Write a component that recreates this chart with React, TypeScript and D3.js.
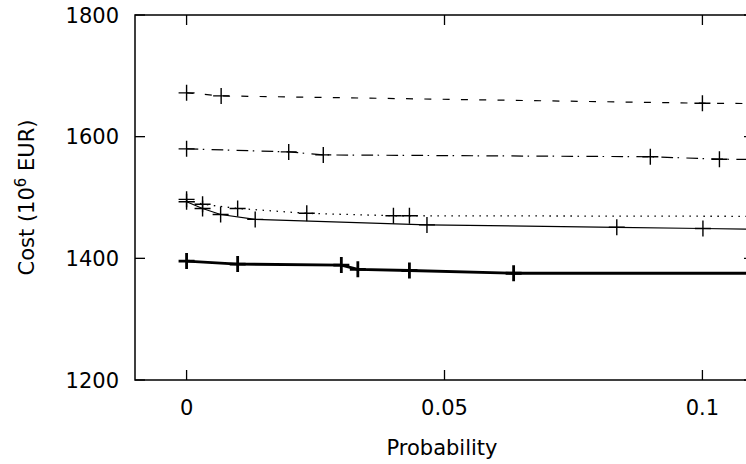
import React from "react";
import * as d3 from "d3";

const xTicks = [0, 0.05, 0.1];
const xTickLabels = ["0", "0.05", "0.1"];
const yTicks = [1200, 1400, 1600, 1800];
const yTickLabels = ["1200", "1400", "1600", "1800"];

const probDashed = [0, 0.0067, 0.1, 0.115];
const costDashed = [1672, 1667, 1655, 1654];

const probDashDot = [0, 0.0198, 0.0265, 0.0899, 0.1033, 0.115];
const costDashDot = [1580, 1575, 1570, 1567, 1563, 1562];

const probDotted = [0, 0.0031, 0.0099, 0.0233, 0.0401, 0.0432, 0.115];
const costDotted = [1497, 1489, 1482, 1474, 1470, 1470, 1469];

const probThin = [0, 0.0031, 0.0066, 0.0133, 0.0466, 0.0834, 0.1001, 0.115];
const costThin = [1493, 1482, 1472, 1464, 1455, 1451, 1449, 1447];

const probThick = [0, 0.0099, 0.03, 0.0332, 0.0432, 0.0634, 0.115];
const costThick = [1395.5, 1390.5, 1389, 1382, 1380, 1375.5, 1375.5];

const series = [
  { xs: probDashed, ys: costDashed, dash: "7,11.3", width: 1.2, mw: 1.4 },
  { xs: probDashDot, ys: costDashDot, dash: "11.7,4.5,1.5,7.3", width: 1.2, mw: 1.4 },
  { xs: probDotted, ys: costDotted, dash: "1.5,5.5", width: 1.3, mw: 1.4 },
  { xs: probThin, ys: costThin, dash: "none", width: 1.2, mw: 1.4 },
  { xs: probThick, ys: costThick, dash: "none", width: 2.8, mw: 2.8 },
];

const W = 746;
const H = 464;
const left = 135;
const right = 754;
const top = 15;
const bottom = 380;
const font = "'DejaVu Sans', sans-serif";
const fs = 21;

export default function App() {
  const x = d3.scaleLinear().domain([-0.01, 0.11]).range([left, right]);
  const y = d3.scaleLinear().domain([1200, 1800]).range([bottom, top]);
  const tick = 10;
  const ms = 8;

  return (
    <svg
      width={W}
      height={H}
      style={{ position: "absolute", left: 0, top: 0, background: "#fff" }}
    >
      <defs>
        <clipPath id="plotclip">
          <rect x={left} y={top} width={right - left} height={bottom - top} />
        </clipPath>
      </defs>
      <rect x={0} y={0} width={W} height={H} fill="#fff" />
      {/* series */}
      <g clipPath="url(#plotclip)">
        {series.map((s, i) => {
          const pts: [number, number][] = s.xs.map((v, j) => [v, s.ys[j]]);
          const line = d3
            .line<[number, number]>()
            .x((d) => x(d[0]))
            .y((d) => y(d[1]));
          return (
            <g key={i}>
              <path
                d={line(pts) || ""}
                fill="none"
                stroke="#000"
                strokeWidth={s.width}
                strokeDasharray={s.dash}
              />
              {pts.map((p, j) => (
                <path
                  key={j}
                  d={`M${x(p[0]) - ms},${y(p[1])}H${x(p[0]) + ms}M${x(p[0])},${y(p[1]) - ms}V${y(p[1]) + ms}`}
                  stroke="#000"
                  strokeWidth={s.mw}
                  fill="none"
                />
              ))}
            </g>
          );
        })}
      </g>
      {/* frame */}
      <rect
        x={left}
        y={top}
        width={right - left}
        height={bottom - top}
        fill="none"
        stroke="#000"
        strokeWidth={1.5}
      />
      {/* x ticks */}
      {xTicks.map((t, i) => (
        <g key={i}>
          <line x1={x(t)} x2={x(t)} y1={bottom} y2={bottom - tick} stroke="#000" strokeWidth={1.3} />
          <line x1={x(t)} x2={x(t)} y1={top} y2={top + tick} stroke="#000" strokeWidth={1.3} />
          <text
            x={x(t)}
            y={415}
            textAnchor="middle"
            fontFamily={font}
            fontSize={fs}
            fill="#000"
          >
            {xTickLabels[i]}
          </text>
        </g>
      ))}
      {/* y ticks */}
      {yTicks.map((t, i) => (
        <g key={i}>
          <line x1={left} x2={left + tick} y1={y(t)} y2={y(t)} stroke="#000" strokeWidth={1.3} />
          <line x1={right} x2={right - tick} y1={y(t)} y2={y(t)} stroke="#000" strokeWidth={1.3} />
          <text
            x={119}
            y={y(t) + 7.6}
            textAnchor="end"
            fontFamily={font}
            fontSize={fs}
            fill="#000"
          >
            {yTickLabels[i]}
          </text>
        </g>
      ))}
      {/* axis titles */}
      <text
        x={442}
        y={455}
        textAnchor="middle"
        fontFamily={font}
        fontSize={fs}
        fill="#000"
      >
        Probability
      </text>
      <text
        transform={`translate(34, ${(top + bottom) / 2}) rotate(-90)`}
        textAnchor="middle"
        fontFamily={font}
        fontSize={fs}
        fill="#000"
      >
        Cost (10
        <tspan fontSize={15} dy={-8}>6</tspan>
        <tspan dy={8}> EUR)</tspan>
      </text>
    </svg>
  );
}
